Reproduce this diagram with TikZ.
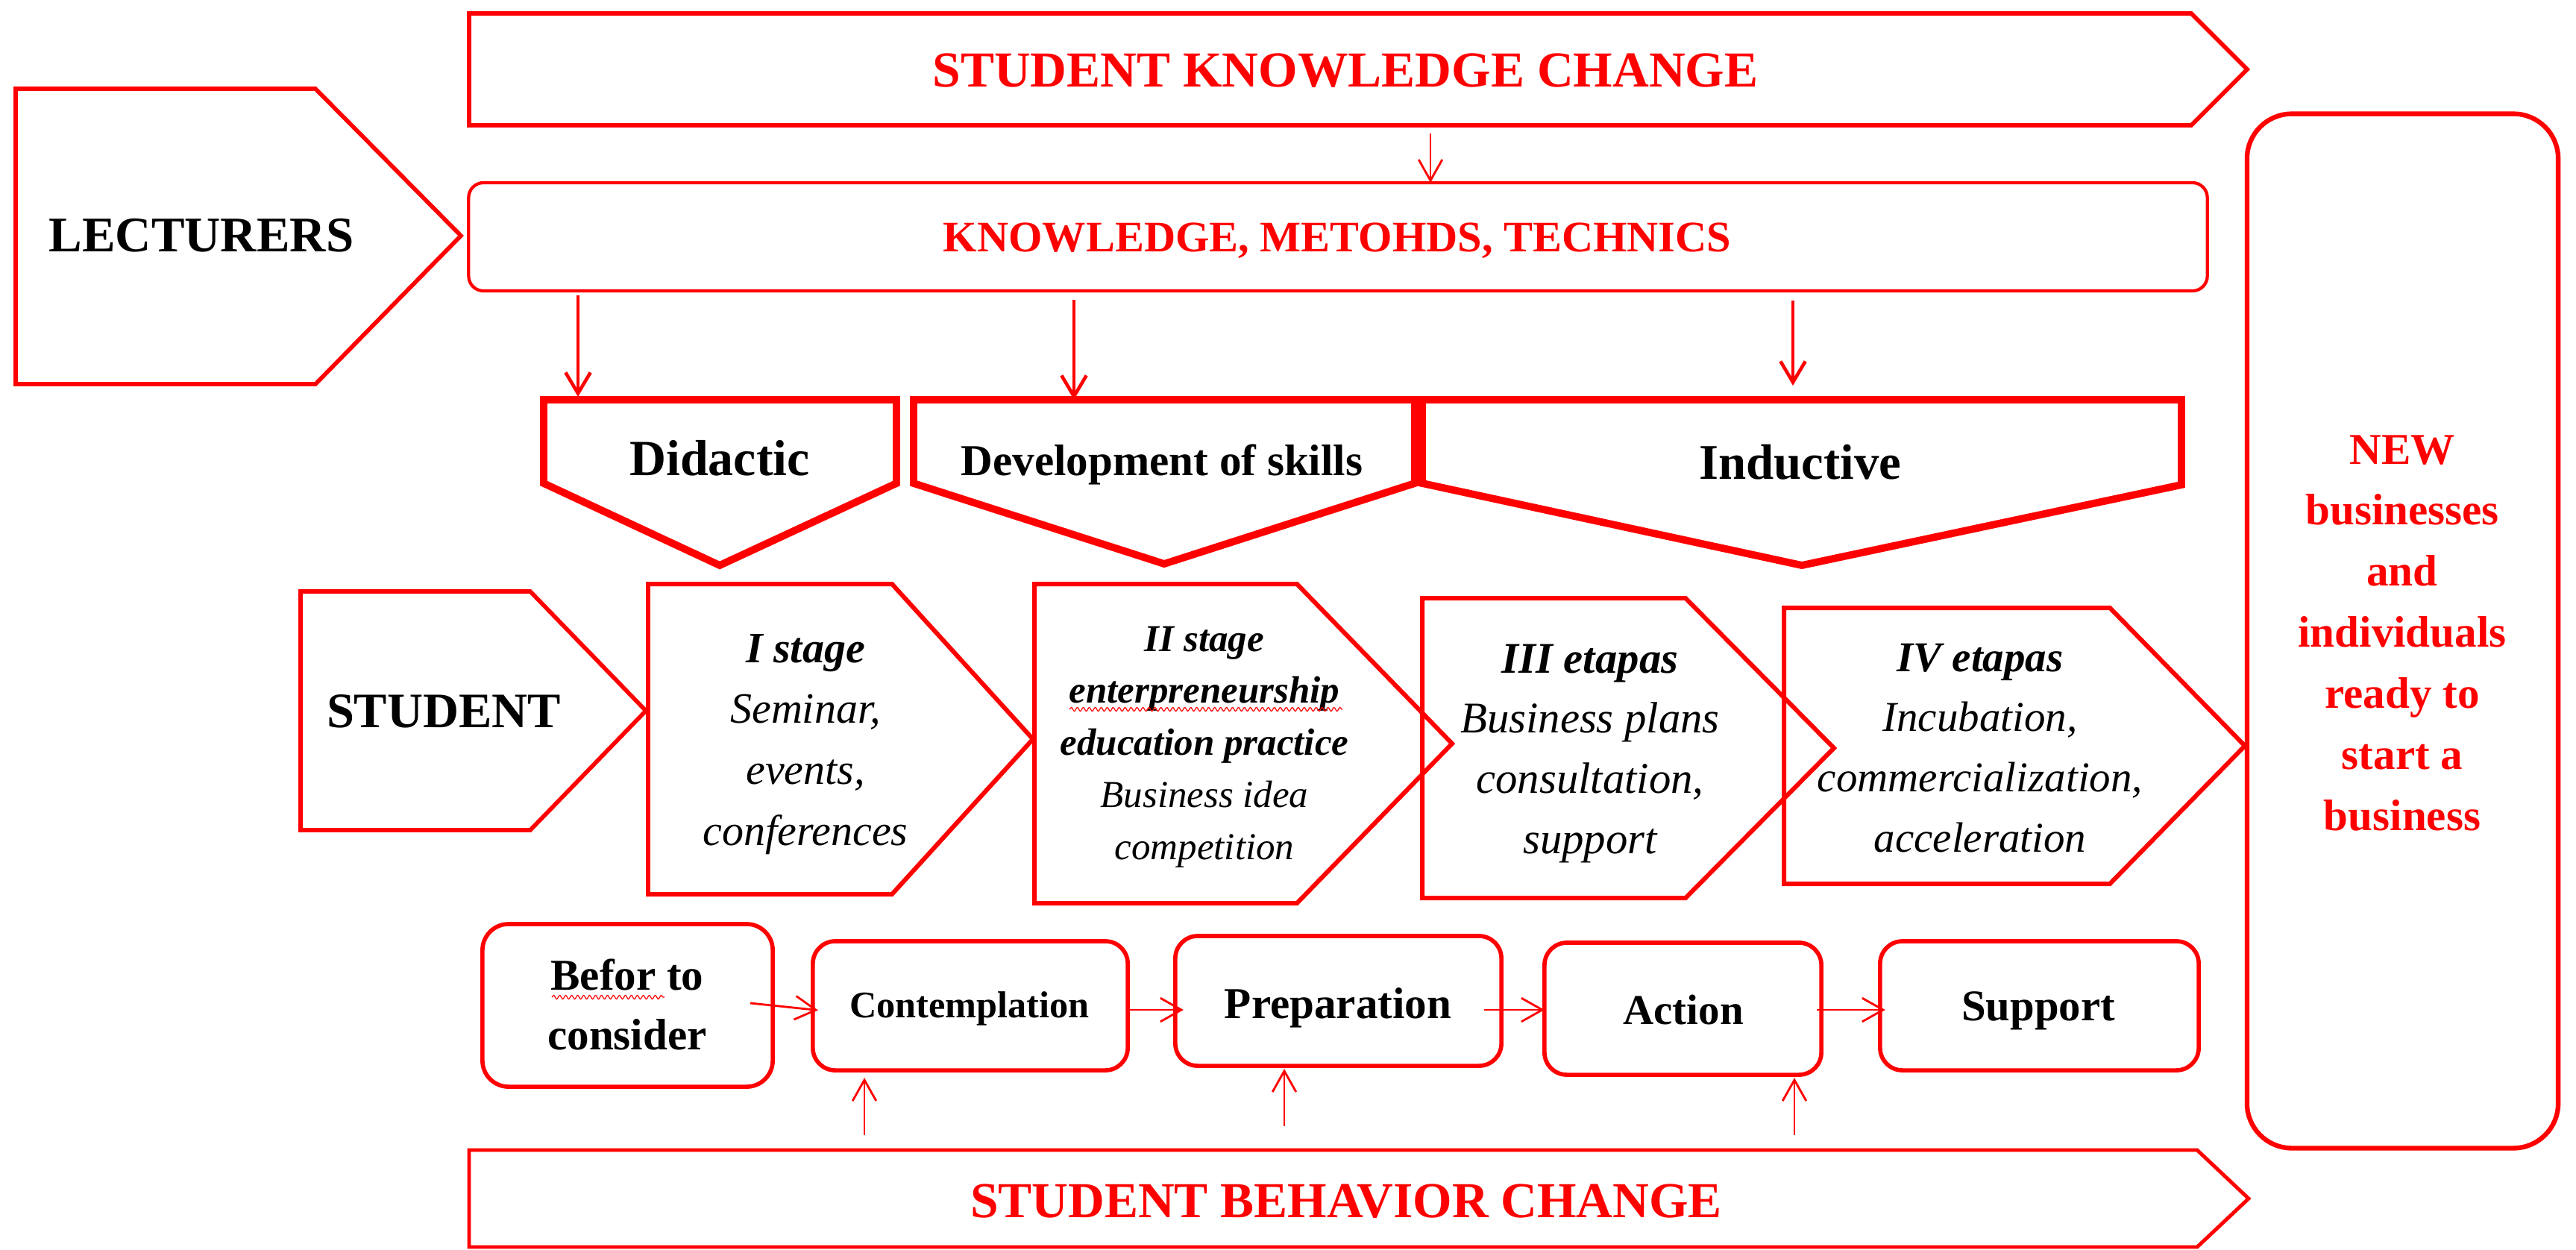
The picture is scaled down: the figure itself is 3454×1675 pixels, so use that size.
\documentclass[tikz,border=0pt]{standalone}
\usepackage{fontspec}
\setmainfont{Liberation Serif}
\usetikzlibrary{arrows.meta,calc,decorations.pathmorphing}
\definecolor{rd}{RGB}{255,0,0}
\newcommand{\fsz}[2]{\fontsize{#1pt}{#2pt}\selectfont}
\newcommand{\mlines}[1]{\begin{tabular}[t]{@{}c@{}}#1\end{tabular}}
\begin{document}
\begin{tikzpicture}[x=0.01cm,y=-0.01cm,
  shp/.style={draw=rd, line width=1.6pt, line join=miter},
  thickshp/.style={draw=rd, line width=2.8pt, line join=miter},
  rbox/.style={draw=rd, line width=1.6pt, rectangle, inner sep=0pt, outer sep=0pt},
  txt/.style={inner sep=0pt, anchor=base},
  bigred/.style={txt, text=rd, font=\bfseries\fsz{19.2}{23}},
  thickarrow/.style={draw=rd, line width=1.3pt, -{Straight Barb[length=8pt,width=9.5pt]}},
  thinarrow/.style={draw=rd, line width=0.8pt, -{Straight Barb[length=8pt,width=9pt]}},
  squig/.style={draw=rd, line width=0.35pt, decorate, decoration={snake, segment length=0.08cm, amplitude=0.025cm}}
]
\useasboundingbox (0,0) rectangle (3454,1675);

% ---------- top: knowledge change ----------
\draw[shp] (629,18) -- (2938,18) -- (3013,93) -- (2938,168) -- (629,168) -- cycle;
\node[bigred] (kct) at (1804,116) {STUDENT KNOWLEDGE CHANGE};

\node[rbox, rounded corners=0.2cm, line width=1.2pt, minimum width=23.30cm, minimum height=1.45cm] (kmt) at (1794,317.5) {};
\node[txt, text=rd, font=\bfseries\fsz{16.6}{20}] (kmtt) at (1793,337) {KNOWLEDGE, METOHDS, TECHNICS};

\draw[shp] (21,119) -- (423,119) -- (618,316) -- (423,515) -- (21,515) -- cycle;
\node[txt, font=\bfseries\fsz{19}{23}] (lect) at (270,337) {LECTURERS};

\coordinate (kcb) at (1918,179);
\draw[thinarrow] (kcb) -- (kcb |- kmt.north);

% ---------- methods row ----------
\draw[thickshp] (729,536) -- (1202,536) -- (1202,648) -- (965,758) -- (729,648) -- cycle;
\draw[thickshp] (1225,536) -- (1897,536) -- (1897,648) -- (1561,756) -- (1225,648) -- cycle;
\draw[thickshp] (1907,536) -- (2925,536) -- (2925,650) -- (2416,758) -- (1907,648) -- cycle;
\node[txt, font=\bfseries\fsz{19.3}{23}] (did) at (965,637) {Didactic};
\node[txt, font=\bfseries\fsz{16.8}{20}] (dev) at (1558,637) {Development of skills};
\node[txt, font=\bfseries\fsz{19}{23}] (ind) at (2414,642) {Inductive};

\coordinate (a1) at (775,532);
\coordinate (a2) at (1440,536);
\coordinate (a3) at (2404,517);
\draw[thickarrow, shorten <=0.06cm] (kmt.south -| a1) -- (a1);
\draw[thickarrow, shorten <=0.12cm] (kmt.south -| a2) -- (a2);
\draw[thickarrow, shorten <=0.13cm] (kmt.south -| a3) -- (a3);

% ---------- stage row ----------
\draw[shp] (403,793) -- (711,793) -- (866,953) -- (711,1113) -- (403,1113) -- cycle;
\node[txt, font=\bfseries\fsz{18.9}{23}] (stu) at (595,975) {STUDENT};

\draw[shp, line width=1.7pt] (869,783) -- (1196,783) -- (1385,991) -- (1196,1199) -- (869,1199) -- cycle;
\draw[shp, line width=1.7pt] (1387,783) -- (1739,783) -- (1947,997) -- (1739,1211) -- (1387,1211) -- cycle;
\draw[shp, line width=1.7pt] (1907,802) -- (2260,802) -- (2459,1003) -- (2260,1204) -- (1907,1204) -- cycle;
\draw[shp, line width=1.7pt] (2392,815) -- (2829,815) -- (3010,1000) -- (2829,1185) -- (2392,1185) -- cycle;

\node[txt, font=\itshape\fsz{16.5}{23.3}] (s1) at (1080,888)
  {\mlines{\textbf{I stage}\\ Seminar,\\ events,\\ conferences}};
\node[txt, font=\itshape\fsz{14.5}{19.9}] (s2) at (1615,873)
  {\mlines{\textbf{II stage}\\ \textbf{enterpreneurship}\\ \textbf{education practice}\\ Business idea\\ competition}};
\node[txt, font=\itshape\fsz{16.7}{23}] (s3) at (2132,902)
  {\mlines{\textbf{III etapas}\\ Business plans\\ consultation,\\ support}};
\node[txt, font=\itshape\fsz{16.2}{23}] (s4) at (2655,900)
  {\mlines{\textbf{IV etapas}\\ Incubation,\\ commercialization,\\ acceleration}};
\draw[squig] (1434,951) -- (1800,951);

% ---------- result box ----------
\node[rbox, rounded corners=0.6cm, line width=1.8pt, minimum width=4.17cm, minimum height=13.86cm] (new) at (3221.5,846) {};
\node[txt, text=rd, font=\bfseries\fsz{16.8}{23.3}] (newt) at (3221,622)
  {\mlines{NEW\\ businesses\\ and\\ individuals\\ ready to\\ start a\\ business}};

% ---------- behaviour row ----------
\node[rbox, rounded corners=0.35cm, minimum width=3.89cm, minimum height=2.18cm] (befor) at (841.5,1348) {};
\node[rbox, rounded corners=0.3cm, minimum width=4.22cm, minimum height=1.73cm] (cont) at (1301,1348.5) {};
\node[rbox, rounded corners=0.3cm, minimum width=4.37cm, minimum height=1.74cm] (prep) at (1794.5,1342) {};
\node[rbox, rounded corners=0.3cm, minimum width=3.71cm, minimum height=1.77cm] (act) at (2256.5,1352.5) {};
\node[rbox, rounded corners=0.3cm, minimum width=4.27cm, minimum height=1.73cm] (sup) at (2734.5,1348.5) {};

\node[txt, font=\bfseries\fsz{16.8}{23}] (befort) at (841,1327) {\mlines{Befor to\\ consider}};
\draw[squig] (740,1337) -- (891,1337);
\node[txt, font=\bfseries\fsz{14.3}{18}] (contt) at (1300,1364) {Contemplation};
\node[txt, font=\bfseries\fsz{16.8}{20}] (prept) at (1794,1365) {Preparation};
\node[txt, font=\bfseries\fsz{16.2}{20}] (actt) at (2257,1373) {Action};
\node[txt, font=\bfseries\fsz{16.7}{20}] (supt) at (2733,1368) {Support};

\coordinate (lvl) at (0,1354);
\draw[thinarrow] ($(befor.east)+(-30,-3)$) -- ($(cont.west)+(7,6)$);
\draw[thinarrow] (cont.east |- lvl) -- ($(prep.west |- lvl)+(11,0)$);
\draw[thinarrow] ($(prep.east |- lvl)+(-23,0)$) -- (act.west |- lvl);
\draw[thinarrow] ($(act.east |- lvl)+(-6,0)$) -- ($(sup.west |- lvl)+(7,0)$);

\draw[shp, line width=1.4pt] (629,1542) -- (2946,1542) -- (3015,1607) -- (2946,1672) -- (629,1672) -- cycle;
\node[bigred] (beht) at (1805,1632) {STUDENT BEHAVIOR CHANGE};

\coordinate (u1) at (1159,1522);
\coordinate (u2) at (1722,1510);
\coordinate (u3) at (2406,1522);
\draw[thinarrow] (u1) -- ($(u1 |- cont.south)+(0,10)$);
\draw[thinarrow] (u2) -- ($(u2 |- prep.south)+(0,4)$);
\draw[thinarrow] (u3) -- ($(u3 |- act.south)+(0,4)$);
\end{tikzpicture}
\end{document}
